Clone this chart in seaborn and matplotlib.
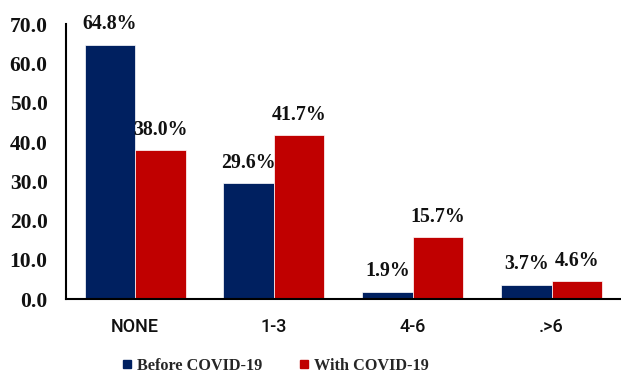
import matplotlib
matplotlib.use("Agg")
import matplotlib.pyplot as plt
from matplotlib.lines import Line2D
from matplotlib.ticker import FormatStrFormatter, MultipleLocator
import pandas as pd
import seaborn as sns

# Number of episodes per group, share of respondents (%)
categories = ["NONE", "1-3", "4-6", ".>6"]
series_names = ["Before COVID-19", "With COVID-19"]
before_covid = [64.8, 29.6, 1.9, 3.7]
with_covid = [38.0, 41.7, 15.7, 4.6]
colors = ["#002060", "#C00000"]

df = pd.DataFrame({
    "category": categories * 2,
    "period": [series_names[0]] * len(categories) + [series_names[1]] * len(categories),
    "value": before_covid + with_covid,
})

sns.set_theme(style="white")
plt.rcParams["font.family"] = ["Liberation Serif", "DejaVu Serif"]
plt.rcParams["font.weight"] = "bold"

fig = plt.figure(figsize=(6.21, 3.74), dpi=100)
ax = fig.add_axes([0.1058, 0.2005, 0.8942, 0.734])

sns.barplot(
    data=df, x="category", y="value", hue="period",
    order=categories, hue_order=series_names,
    palette=colors, saturation=1, width=0.727,
    edgecolor="white", linewidth=0.5, errorbar=None, ax=ax,
)

for container in ax.containers:
    ax.bar_label(container, fmt="%.1f%%", padding=7.5,
                 fontsize=14.3, fontweight="bold", color="#111111")

ax.set_ylim(0, 70)
ax.set_xlim(-0.5, 3.5)
ax.yaxis.set_major_locator(MultipleLocator(10))
ax.yaxis.set_major_formatter(FormatStrFormatter("%.1f"))
ax.set_xlabel("")
ax.set_ylabel("")

ax.tick_params(axis="y", length=0, pad=13, labelsize=15.5, labelcolor="#111111")
ax.tick_params(axis="x", length=0, pad=14, labelcolor="#111111")
for lbl in ax.get_yticklabels():
    lbl.set_fontweight("bold")
for lbl in ax.get_xticklabels():
    lbl.set_family(["Roboto", "DejaVu Sans"])
    lbl.set_fontweight("medium")
    lbl.set_fontsize(13)

for side in ("top", "right"):
    ax.spines[side].set_visible(False)
for side in ("left", "bottom"):
    ax.spines[side].set_color("black")
    ax.spines[side].set_linewidth(1.5)

ax.legend_.remove()
handles = [Line2D([], [], marker="s", linestyle="", color=c, markersize=5.5)
           for c in colors]
fig.legend(handles, series_names, loc="lower left",
           bbox_to_anchor=(0.197, 0.0), ncol=2, frameon=False,
           handlelength=0.6, handletextpad=0.3, columnspacing=2.3,
           borderpad=0, borderaxespad=0,
           prop={"family": "Liberation Serif", "weight": "bold", "size": 11.7})

fig.savefig("out.png", dpi=100)
